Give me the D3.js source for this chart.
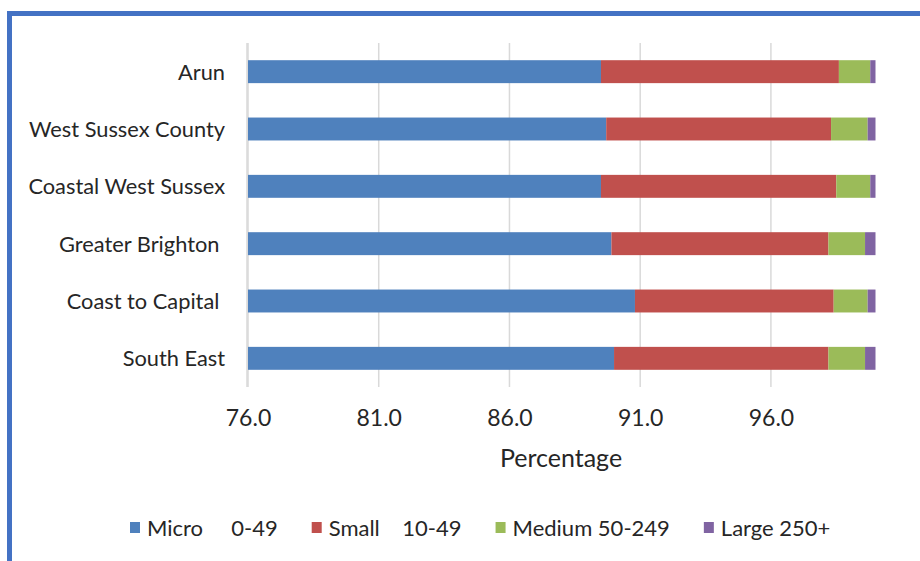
<!DOCTYPE html>
<html>
<head>
<meta charset="utf-8">
<script src="https://cdn.jsdelivr.net/npm/d3@7"></script>
<style>
  body { margin: 0; background: #fff; }
  svg text { font-family: Lato, "Open Sans", sans-serif; fill: #262626; }
</style>
</head>
<body>
<svg id="chart" width="920" height="561"></svg>
<script>
// areas, top to bottom
var areas = ['Arun', 'West Sussex County', 'Coastal West Sussex', 'Greater Brighton ', 'Coast to Capital ', 'South East'];
var micro  = [89.5, 89.7, 89.5, 89.9, 90.8, 90.0];
var small  = [9.1, 8.6, 9.0, 8.3, 7.6, 8.2];
var medium = [1.2, 1.4, 1.3, 1.4, 1.3, 1.4];
var large  = [0.2, 0.3, 0.2, 0.4, 0.3, 0.4];
var seriesNames = ['Micro     0-49', 'Small    10-49', 'Medium 50-249', 'Large 250+'];
var colors = ['#4F81BD', '#C0504D', '#9BBB59', '#8064A2'];
var tickVals = [76, 81, 86, 91, 96];

var svg = d3.select('#chart');

// blue frame (only left and top edges are in the shot)
svg.append('path')
  .attr('d', 'M9.5,561 L9.5,13.5 L920,13.5')
  .attr('fill', 'none')
  .attr('stroke', '#4472C4')
  .attr('stroke-width', 5);

var x = d3.scaleLinear().domain([76, 100]).range([248, 875.5]);
var y = d3.scaleBand().domain(areas).range([43, 387]).paddingInner(0.6).paddingOuter(0.3);

// gridlines
svg.append('g').selectAll('line')
  .data(tickVals)
  .enter().append('line')
  .attr('x1', function(d) { return x(d); })
  .attr('x2', function(d) { return x(d); })
  .attr('y1', 43).attr('y2', 387)
  .attr('stroke', '#D9D9D9')
  .attr('stroke-width', 1.5);

// stacked bars
var rows = areas.map(function(a, i) {
  return { area: a, Micro: micro[i], Small: small[i], Medium: medium[i], Large: large[i] };
});
var keys = ['Micro', 'Small', 'Medium', 'Large'];
var stacked = d3.stack().keys(keys)(rows);

svg.append('g').selectAll('g')
  .data(stacked)
  .enter().append('g')
  .attr('fill', function(d, i) { return colors[i]; })
  .selectAll('rect')
  .data(function(d) { return d; })
  .enter().append('rect')
  .attr('x', function(d) { return x(Math.max(d[0], 76)); })
  .attr('width', function(d) { return x(d[1]) - x(Math.max(d[0], 76)); })
  .attr('y', function(d) { return y(d.data.area); })
  .attr('height', y.bandwidth());

// vertical axis line
svg.append('line')
  .attr('x1', 247).attr('x2', 247)
  .attr('y1', 43).attr('y2', 387)
  .attr('stroke', '#D9D9D9')
  .attr('stroke-width', 1.5);

// category labels
svg.append('g').selectAll('text')
  .data(areas)
  .enter().append('text')
  .attr('x', 225)
  .attr('y', function(d) { return y(d) + y.bandwidth() / 2; })
  .attr('dy', '0.36em')
  .attr('text-anchor', 'end')
  .attr('font-size', 21.8)
  .style('white-space', 'pre')
  .text(function(d) { return d; });

// x axis tick labels
var xAxis = d3.axisBottom(x).tickValues(tickVals).tickSize(0).tickPadding(0).tickFormat(d3.format('.1f'));
var gx = svg.append('g').attr('transform', 'translate(0,409)').call(xAxis);
gx.select('.domain').remove();
gx.selectAll('text')
  .attr('font-size', 23)
  .attr('dy', '0.72em')
  .attr('fill', '#262626')
  .style('font-family', 'Lato, sans-serif');

svg.append('text')
  .attr('x', 561).attr('y', 467)
  .attr('text-anchor', 'middle')
  .attr('font-size', 25)
  .text('Percentage');

// legend
var legend = svg.append('g');
var lx = 130;
seriesNames.forEach(function(name, i) {
  legend.append('rect')
    .attr('x', lx).attr('y', 522)
    .attr('width', 10).attr('height', 11)
    .attr('fill', colors[i]);
  var t = legend.append('text')
    .attr('x', lx + 17).attr('y', 528)
    .attr('dy', '0.36em')
    .attr('font-size', 22)
    .style('white-space', 'pre')
    .text(name);
  lx += 17 + t.node().getComputedTextLength() + 34;
});
</script>
</body>
</html>
